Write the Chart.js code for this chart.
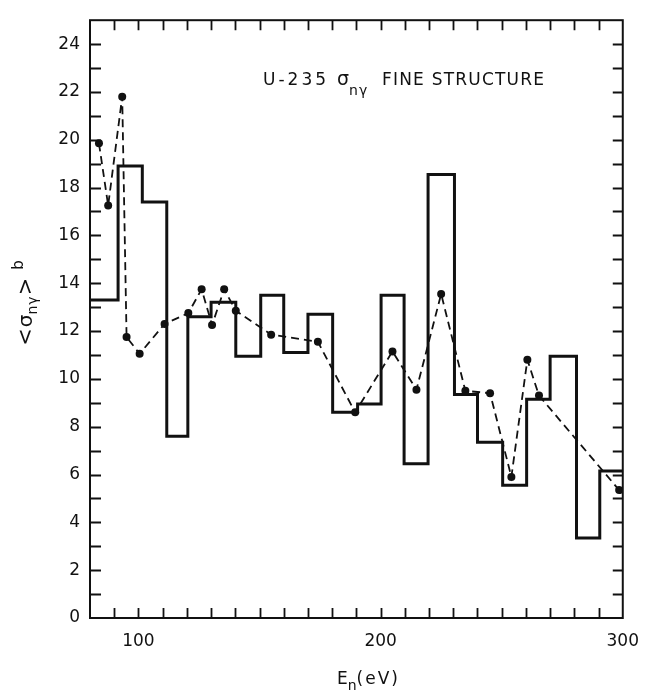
<!DOCTYPE html>
<html>
<head>
<meta charset="utf-8">
<script src="https://cdn.jsdelivr.net/npm/chart.js@4/dist/chart.umd.min.js"></script>
<style>
  html, body { margin: 0; padding: 0; background: #ffffff; }
  #wrap { width: 652px; height: 696px; }
</style>
</head>
<body>
<div id="wrap"><canvas id="chart" width="652" height="696"></canvas></div>
<script>
// Histogram of the averaged capture cross section: bin edges (eV) and bin levels (barns)
const binEdges  = [80, 91.6, 101.6, 111.7, 120.4, 130, 140.2, 150.5, 160, 170, 180.2, 190.5,
                   200.2, 209.7, 219.6, 230.5, 240, 250.4, 260.3, 270, 280.9, 290.5, 300];
const binLevels = [13.3, 18.9, 17.4, 7.6, 12.6, 13.2, 10.95, 13.5, 11.1, 12.7, 8.6,
                   8.95, 13.5, 6.45, 18.55, 9.35, 7.35, 5.55, 9.15, 10.95, 3.35, 6.15];

// Individual measured points joined by the dashed curve
const pointEnergy = [83.7, 87.5, 93.3, 95.1, 100.5, 110.8, 120.6, 126.1, 130.4, 135.4, 140.2,
                     154.8, 174.1, 189.5, 204.9, 214.8, 225, 235, 245.2, 254, 260.6, 265.4, 298.5];
const pointSigma  = [19.85, 17.25, 21.8, 11.75, 11.05, 12.3, 12.75, 13.75, 12.25, 13.75, 12.85,
                     11.85, 11.55, 8.6, 11.15, 9.55, 13.55, 9.5, 9.4, 5.9, 10.8, 9.3, 5.35];

// Axis ranges and labelled tick values
const xRange = [80, 300];
const yRange = [0, 25];
const xLabelValues = [100, 200, 300];
const yLabelValues = [0, 2, 4, 6, 8, 10, 12, 14, 16, 18, 20, 22, 24];

const INK = '#111111';
const FONT = 'DejaVu Sans';

// Step outline: one point per bin start plus the closing edge
const stepData = binLevels.map((v, i) => ({ x: binEdges[i], y: v }));
stepData.push({ x: binEdges[binEdges.length - 1], y: binLevels[binLevels.length - 1] });
const pointData = pointEnergy.map((e, i) => ({ x: e, y: pointSigma[i] }));

// Draws a run of text pieces (with sub/superscript offsets) starting at x, baseline y
function drawPieces(ctx, x, y, pieces) {
  let cx = x;
  for (const p of pieces) {
    ctx.font = p.font;
    ctx.letterSpacing = p.spacing || '0px';
    if (p.at !== undefined) cx = p.at;
    ctx.fillText(p.text, cx, y + (p.dy || 0));
    cx += ctx.measureText(p.text).width + (p.gap || 0);
  }
  ctx.letterSpacing = '0px';
  return cx - x;
}
function measurePieces(ctx, pieces) {
  let w = 0;
  for (const p of pieces) {
    ctx.font = p.font;
    ctx.letterSpacing = p.spacing || '0px';
    w += ctx.measureText(p.text).width + (p.gap || 0);
  }
  ctx.letterSpacing = '0px';
  return w;
}

// Closed frame with inward tick marks on all four sides, plus the lettering
const frameAndLabels = {
  id: 'frameAndLabels',
  afterDatasetsDraw(chart) {
    const { ctx, chartArea: a, scales: { x, y } } = chart;
    ctx.save();
    ctx.strokeStyle = INK;
    ctx.lineWidth = 2;
    ctx.strokeRect(a.left, a.top, a.right - a.left, a.bottom - a.top);

    ctx.lineWidth = 1.8;
    ctx.beginPath();
    x.ticks.forEach(t => {
      if (t.value <= xRange[0] || t.value >= xRange[1]) return;
      const px = Math.round(x.getPixelForValue(t.value)) + 0.5;
      ctx.moveTo(px, a.bottom); ctx.lineTo(px, a.bottom - 10);
      ctx.moveTo(px, a.top);    ctx.lineTo(px, a.top + 10);
    });
    y.ticks.forEach(t => {
      if (t.value <= yRange[0] || t.value >= yRange[1]) return;
      const py = Math.round(y.getPixelForValue(t.value)) + 0.5;
      ctx.moveTo(a.left, py);  ctx.lineTo(a.left + 11, py);
      ctx.moveTo(a.right, py); ctx.lineTo(a.right - 10, py);
    });
    ctx.stroke();
    ctx.restore();
  },
  afterDraw(chart) {
    const { ctx } = chart;
    ctx.save();
    ctx.fillStyle = INK;
    ctx.textBaseline = 'alphabetic';
    ctx.textAlign = 'left';

    // Title inside the plot
    drawPieces(ctx, 263, 85, [
      { text: 'U-235', font: `17px ${FONT}`, spacing: '3px' },
      { text: 'σ', font: `19px ${FONT}`, at: 337 },
      { text: 'nγ', font: `14px ${FONT}`, dy: 10, spacing: '1px' },
      { text: 'FINE STRUCTURE', font: `17px ${FONT}`, spacing: '1.2px', at: 382 }
    ]);

    // x-axis title: E_n(eV)
    const xt = [
      { text: 'E', font: `17px ${FONT}` },
      { text: 'n', font: `14px ${FONT}`, dy: 6 },
      { text: '(eV)', font: `17px ${FONT}`, spacing: '2px' }
    ];
    drawPieces(ctx, 337, 684, xt);

    // y-axis title: <σ_nγ> b, reading upward
    const yt = [
      { text: '<', font: `21px ${FONT}`, gap: 1 },
      { text: 'σ', font: `20px ${FONT}` },
      { text: 'nγ', font: `14px ${FONT}`, dy: 5, spacing: '1px' },
      { text: '>', font: `21px ${FONT}`, gap: 8 },
      { text: 'b', font: `15px ${FONT}`, dy: -9 }
    ];
    const w = measurePieces(ctx, yt);
    ctx.translate(32, 303);
    ctx.rotate(-Math.PI / 2);
    drawPieces(ctx, -w / 2, 0, yt);
    ctx.restore();
  }
};

new Chart(document.getElementById('chart'), {
  type: 'scatter',
  data: {
    datasets: [
      {
        label: 'histogram',
        data: stepData,
        showLine: true,
        stepped: 'before',
        borderColor: INK,
        borderWidth: 3,
        pointRadius: 0,
        fill: false
      },
      {
        label: 'points',
        data: pointData,
        showLine: true,
        borderColor: INK,
        borderWidth: 1.8,
        borderDash: [8, 5],
        pointRadius: 4,
        pointBackgroundColor: INK,
        pointBorderColor: INK,
        pointBorderWidth: 0,
        tension: 0,
        fill: false
      }
    ]
  },
  options: {
    responsive: false,
    animation: false,
    devicePixelRatio: 1,
    layout: { padding: { top: 10, right: 26, left: 0, bottom: 0 } },
    plugins: { legend: { display: false }, tooltip: { enabled: false }, title: { display: false } },
    scales: {
      x: {
        type: 'linear',
        min: xRange[0], max: xRange[1],
        grid: { display: false, drawTicks: false },
        border: { display: false },
        ticks: {
          stepSize: 10,
          autoSkip: false,
          maxRotation: 0,
          padding: 13,
          color: INK,
          font: { family: FONT, size: 17 },
          callback: v => (xLabelValues.includes(v) ? String(v) : '')
        },
        afterFit: s => { s.height = 78; }
      },
      y: {
        type: 'linear',
        min: yRange[0], max: yRange[1],
        grid: { display: false, drawTicks: false },
        border: { display: false },
        ticks: {
          stepSize: 1,
          autoSkip: false,
          padding: 10,
          color: INK,
          font: { family: FONT, size: 17 },
          callback: v => (yLabelValues.includes(v) ? String(v) : '')
        },
        afterFit: s => { s.width = 90; }
      }
    }
  },
  plugins: [frameAndLabels]
});
</script>
</body>
</html>
